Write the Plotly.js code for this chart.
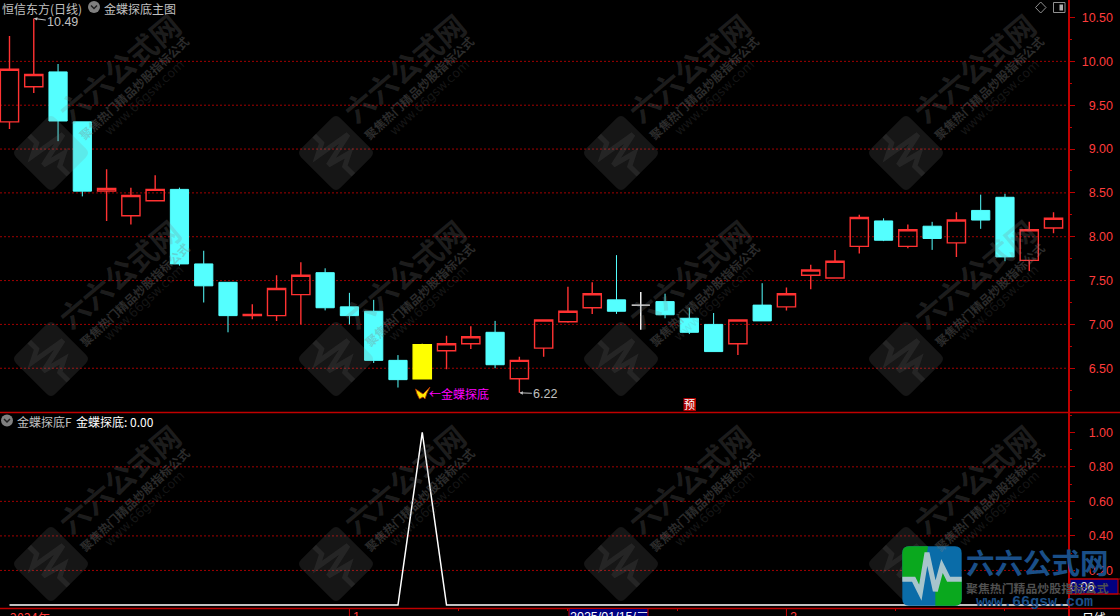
<!DOCTYPE html>
<html><head><meta charset="utf-8">
<script src="https://cdn.plot.ly/plotly-3.0.1.min.js"></script>
<style>html,body{margin:0;padding:0;background:#000;overflow:hidden}#c{width:1120px;height:616px}</style>
</head><body><div id="c"></div><script>
const candleIndex=[0,1,2,3,4,5,6,7,8,9,10,11,12,13,14,15,16,17,18,19,20,21,22,23,24,25,26,27,28,29,30,31,32,33,34,35,36,37,38,39,40,41,42,43];
const openP =[9.31,9.71,9.88,9.31,8.52,8.24,8.41,8.54,7.69,7.48,7.10,7.10,7.34,7.59,7.20,7.15,6.59,6.38,6.70,6.78,6.91,6.38,6.73,7.03,7.19,7.28,7.22,7.26,7.07,7.00,6.78,7.22,7.20,7.56,7.53,7.89,8.18,7.89,8.12,7.93,8.30,8.45,7.73,8.10];
const highP =[10.29,10.49,9.97,9.31,8.77,8.56,8.70,8.56,7.84,7.48,7.23,7.56,7.71,7.64,7.36,7.28,6.65,6.78,6.87,6.98,7.04,6.63,7.05,7.43,7.48,7.79,7.37,7.35,7.19,7.13,7.05,7.47,7.42,7.68,7.85,8.25,8.21,8.14,8.17,8.28,8.48,8.49,8.17,8.28];
const lowP  =[9.23,9.64,9.09,8.46,8.18,8.14,8.41,7.67,7.25,6.91,7.06,7.04,7.00,7.16,7.00,6.56,6.28,6.38,6.49,6.72,6.50,6.22,6.63,7.02,7.12,7.12,6.94,7.07,6.89,6.69,6.65,7.04,7.16,7.40,7.52,7.81,7.95,7.87,7.85,7.77,8.09,7.72,7.61,8.04];
const closeP=[9.91,9.85,9.32,8.52,8.55,8.47,8.54,7.69,7.44,7.10,7.115,7.41,7.56,7.19,7.10,6.59,6.37,6.77,6.78,6.86,6.54,6.59,7.05,7.15,7.35,7.15,7.22,7.11,6.91,6.69,7.05,7.04,7.35,7.62,7.72,8.22,7.96,8.08,7.98,8.19,8.19,7.77,8.08,8.21];
const signalIndex=[0,1,2,3,4,5,6,7,8,9,10,11,12,13,14,15,16,17,18,19,20,21,22,23,24,25,26,27,28,29,30,31,32,33,34,35,36,37,38,39,40,41,42,43,44];
const signalV=[0,0,0,0,0,0,0,0,0,0,0,0,0,0,0,0,0,1,0,0,0,0,0,0,0,0,0,0,0,0,0,0,0,0,0,0,0,0,0,0,0,0,0,0,0];
const goldIdx=[17], whiteIdx=[26];
const mainTicks=[6.5,7,7.5,8,8.5,9,9.5,10,10.5];
const mainTickText=['6.50','7.00','7.50','8.00','8.50','9.00','9.50','10.00','10.50'];
const mainGrid=[6.5,7,7.5,8,8.5,9,9.5,10];
const subTicks=[0.2,0.4,0.6,0.8,1];
const subTickText=['0.20','0.40','0.60','0.80','1.00'];
const subGrid=[0.2,0.4,0.6,0.8];
const timeTicks=[14,18.5,23,27.5,32,36.5,41];
const monthTicks=[14,32];
const monthLabels=['1','2'];

const W=1120,H=616;
const X=p=>p/W, Y=p=>1-p/H;
const RED='#c00000',TXT='#ff3c3c',GREY='#c0c0c0',WM='rgba(128,128,128,0.17)',WMT='rgba(128,128,128,0.22)',WM2='rgba(128,128,128,0.34)';
const SANS='"Noto Sans CJK SC","Noto Sans",sans-serif',NUM='"Liberation Sans",Arial,sans-serif';
const pick=(a,keep)=>a.filter((_,i)=>keep(i));
const isPlain=i=>!goldIdx.includes(i)&&!whiteIdx.includes(i);
function candle(keep,upLine,upFill,dnLine,dnFill){
  return {type:'candlestick',x:pick(candleIndex,keep),open:pick(openP,keep),high:pick(highP,keep),low:pick(lowP,keep),close:pick(closeP,keep),
    xaxis:'x',yaxis:'y',hoverinfo:'skip',showlegend:false,whiskerwidth:0,
    increasing:{line:{color:upLine,width:1.4},fillcolor:upFill},decreasing:{line:{color:dnLine,width:1},fillcolor:dnFill}};
}
const traces=[
  candle(isPlain,'#ff3232','rgba(0,0,0,0)','#54ffff','#54ffff'),
  candle(i=>goldIdx.includes(i),'#ffff00','#ffff00','#ffff00','#ffff00'),
  candle(i=>whiteIdx.includes(i),'#ffffff','#ffffff','#ffffff','#ffffff'),
  {type:'scatter',mode:'lines',x:signalIndex,y:signalV,xaxis:'x',yaxis:'y2',line:{color:'#ffffff',width:1.5},hoverinfo:'skip',showlegend:false}
];

const shapes=[];
mainGrid.forEach(v=>shapes.push({type:'line',layer:'below',xref:'paper',yref:'y',x0:0,x1:1068/W,y0:v,y1:v,line:{color:'#a00000',width:1,dash:'2px,2px'}}));
subGrid.forEach(v=>shapes.push({type:'line',layer:'below',xref:'paper',yref:'y2',x0:0,x1:1068/W,y0:v,y1:v,line:{color:'#a00000',width:1,dash:'2px,2px'}}));
const hline=(y,x0,x1,w)=>shapes.push({type:'line',xref:'paper',yref:'paper',x0:X(x0),x1:X(x1),y0:Y(y),y1:Y(y),line:{color:RED,width:w}});
hline(412.5,0,1120,1.4);hline(608.5,0,1120,1.4);
shapes.push({type:'line',xref:'paper',yref:'paper',x0:X(1069),x1:X(1069),y0:Y(0),y1:Y(616),line:{color:RED,width:2}});
monthTicks.forEach(v=>shapes.push({type:'line',xref:'x',yref:'paper',x0:v,x1:v,y0:Y(608),y1:Y(616),line:{color:RED,width:1}}));
shapes.push({type:'rect',xref:'paper',yref:'paper',x0:X(569),x1:X(648),y0:Y(608.5),y1:Y(620),fillcolor:'#000080',line:{color:RED,width:1}});
shapes.push({type:'rect',xref:'paper',yref:'paper',x0:X(1070),x1:X(1118),y0:Y(579),y1:Y(594),fillcolor:'#000080',line:{color:RED,width:1}});
hline(579,1070,1120,1);hline(594,1070,1120,1);
const pulse=[[-89,10],[-55,10],[-35,50],[-15,-70],[10,45],[30,-30],[50,10],[89,10]];
function mapPts(pts,cx,cy,s,rot){const c=Math.cos(rot),n=Math.sin(rot);return pts.map(([a,b])=>{const x=a*s,y=b*s;return [cx+x*c-y*n,cy+x*n+y*c];});}
function pathOf(cmds,cx,cy,s,rot){return cmds.map(c=>{const p=mapPts(c.slice(1),cx,cy,s,rot).map(q=>X(q[0]).toFixed(5)+' '+Y(q[1]).toFixed(5)).join(' ');return c[0]+' '+p;}).join(' ');}
const rr=[['M',[-89,-69]],['Q',[-89,-89],[-69,-89]],['L',[69,-89]],['Q',[89,-89],[89,-69]],['L',[89,69]],['Q',[89,89],[69,89]],['L',[-69,89]],['Q',[-89,89],[-89,69]],['L',[-89,-69]]];
const pulseCmd=pulse.map((p,i)=>[i?'L':'M',p]);
const tileX=[51,336,621,906],tileY=[153,359,564];
const anns=[];
function label(text,x,y,o={}){anns.push(Object.assign({text,xref:'paper',yref:'paper',x:X(x),y:Y(y),showarrow:false,xanchor:o.xa||'left',yanchor:'middle',font:{family:o.family||SANS,size:o.size||12,color:o.color||GREY,weight:o.weight||400},textangle:o.angle||0,borderpad:0,borderwidth:0},o.extra||{}));}
tileX.forEach(cx=>tileY.forEach(cy=>{
  const s=27.7/89,rot=Math.PI/4;
  shapes.push({type:'path',layer:'above',xref:'paper',yref:'paper',path:pathOf(rr,cx,cy,s,rot)+' Z',fillcolor:WM,line:{width:0}});
  shapes.push({type:'path',layer:'above',xref:'paper',yref:'paper',path:pathOf(pulseCmd,cx,cy,s,rot),line:{color:'rgba(128,128,128,0.15)',width:5}});
  label('六六公式网',cx+68,cy-86,{xa:'center',size:29.5,angle:-40,color:WMT,weight:700});
  label('聚焦热门精品炒股指标公式',cx+83,cy-65,{xa:'center',size:12,angle:-43,color:WM2,weight:700});
  label('www.66gsw.com',cx+93,cy-56,{xa:'center',size:12.5,angle:-43,color:WM,family:'"DejaVu Sans",sans-serif'});
}));
const lx=932,ly=576,ls=1/3;
shapes.push({type:'path',layer:'above',xref:'paper',yref:'paper',path:pathOf(rr,lx,ly,ls,0)+' Z',fillcolor:'#0a6ca8',line:{width:0}});
shapes.push({type:'path',layer:'above',xref:'paper',yref:'paper',path:pathOf([['M',[-89,10]],['L',[-89,-69]],['Q',[-89,-89],[-69,-89]],['L',[-12,-89]],['L',[-15,-70]],['L',[-35,50]],['L',[-55,10]]],lx,ly,ls,0)+' Z',fillcolor:'#0aa81e',line:{width:0}});
shapes.push({type:'path',layer:'above',xref:'paper',yref:'paper',path:pathOf([['M',[89,10]],['L',[89,69]],['Q',[89,89],[69,89]],['L',[10,89]],['L',[10,45]],['L',[30,-30]],['L',[50,10]]],lx,ly,ls,0)+' Z',fillcolor:'#0aa81e',line:{width:0}});
shapes.push({type:'path',layer:'above',xref:'paper',yref:'paper',path:pathOf(pulseCmd,lx,ly,ls,0),line:{color:'#a8c4cc',width:5}});
function chevronIcon(cx,cy){
  shapes.push({type:'circle',layer:'above',xref:'paper',yref:'paper',x0:X(cx-6),x1:X(cx+6),y0:Y(cy-6),y1:Y(cy+6),fillcolor:'#808080',line:{width:0}});
  shapes.push({type:'path',layer:'above',xref:'paper',yref:'paper',path:`M ${X(cx-3)} ${Y(cy-1.5)} L ${X(cx)} ${Y(cy+1.5)} L ${X(cx+3)} ${Y(cy-1.5)}`,line:{color:'#202020',width:1.5}});
}
chevronIcon(94,7);chevronIcon(7,420.5);
shapes.push({type:'path',layer:'above',xref:'paper',yref:'paper',path:`M ${X(1035.5)} ${Y(7.5)} L ${X(1040.7)} ${Y(2)} L ${X(1046)} ${Y(7.5)} L ${X(1040.7)} ${Y(13)} Z`,line:{color:'#909090',width:1}});
shapes.push({type:'rect',layer:'above',xref:'paper',yref:'paper',x0:X(1053.5),x1:X(1065),y0:Y(2.5),y1:Y(12.5),line:{color:'#909090',width:1}});
shapes.push({type:'rect',layer:'above',xref:'paper',yref:'paper',x0:X(1059.5),x1:X(1063),y0:Y(4.5),y1:Y(10.5),fillcolor:'#b0b0b0',line:{width:0}});
shapes.push({type:'path',layer:'above',xref:'paper',yref:'paper',path:`M ${X(423)} ${Y(394)} L ${X(415.5)} ${Y(389)} L ${X(417)} ${Y(394)} L ${X(419.5)} ${Y(399)} L ${X(423)} ${Y(397)} L ${X(425)} ${Y(399)} L ${X(427)} ${Y(393)} L ${X(430)} ${Y(387)} Z`,fillcolor:'#ffe800',line:{color:'#b03000',width:0.8}});
shapes.push({type:'rect',layer:'above',xref:'paper',yref:'paper',x0:X(683.5),x1:X(696),y0:Y(398),y1:Y(411),fillcolor:'#b00000',line:{width:0}});

label('恒信东方(日线)',2,8.5);
label('金蝶探底主图',103.5,8.5);
label('金蝶探底F',16.5,421);
label('金蝶探底: 0.00',76.5,421,{color:'#ffffff'});
label('←金蝶探底',429,393,{color:'#ff00ff'});
label('预',689.7,404.5,{xa:'center',size:11,color:'#ffffff'});
label('2024年',10,617,{family:SANS,size:12.5,color:TXT});
monthTicks.forEach((v,i)=>anns.push({text:monthLabels[i],xref:'x',yref:'paper',x:v,y:Y(617),xanchor:'left',yanchor:'middle',xshift:2,showarrow:false,font:{family:NUM,size:12.5,color:TXT}}));
label('2025/01/15/二',570,617,{size:12.5,color:'#ffffff',family:NUM});
label('日线',1093.5,617,{xa:'center',color:'#ffffff'});
label('0.06',1070,586.5,{family:NUM,size:12.5,color:'#e0e0e0'});
label('六六公式网',1037.5,561,{xa:'center',size:28.5,color:'#1a4f88',weight:700});
label('聚焦热门精品炒股指标公式',1037.5,587,{xa:'center',size:11.9,color:'#505050',weight:700});
label('www.66gsw.com',1034,602.5,{xa:'center',family:'"Liberation Mono",monospace',size:15,color:'#1a4f88',weight:700});
const noteFont={family:NUM,size:12.5,color:GREY};
anns.push({text:'10.49',xref:'x',yref:'y',x:1,y:10.49,ax:29,ay:4,showarrow:true,arrowhead:2,arrowsize:0.7,arrowwidth:1,arrowcolor:GREY,font:noteFont});
anns.push({text:'6.22',xref:'x',yref:'y',x:21,y:6.22,ax:26,ay:1,showarrow:true,arrowhead:2,arrowsize:0.7,arrowwidth:1,arrowcolor:GREY,font:noteFont});

const lineAxis={showgrid:false,zeroline:false,showline:true,linecolor:RED,linewidth:2,ticks:'outside',tickcolor:RED,tickwidth:1,showticklabels:false};
const labelAxis={showgrid:false,zeroline:false,showline:false,ticks:'',side:'right',anchor:'free',position:1116/W,ticklabelposition:'inside',ticklabeloverflow:'allow',tickfont:{family:NUM,size:12.5,color:TXT}};
const mainRange=[6.001,10.70],subRange=[-0.0174,1.1175];
const mainDom=[Y(412),1],subDom=[Y(608),Y(412)];
const layout={width:W,height:H,margin:{l:0,r:0,t:0,b:0,pad:0},paper_bgcolor:'#000',plot_bgcolor:'#000',showlegend:false,
  boxmode:'overlay',boxgap:0.25,boxgroupgap:0,
  xaxis:{domain:[0,1068/W],range:[-0.391,43.596],anchor:'y2',rangeslider:{visible:false},showgrid:false,zeroline:false,showline:false,ticks:'outside',ticklen:2,tickcolor:RED,tickvals:timeTicks,showticklabels:false,fixedrange:true},
  yaxis:Object.assign({},lineAxis,{domain:mainDom,range:mainRange,side:'right',anchor:'x',tickvals:mainTicks,ticklen:5,minor:{dtick:0.25,ticks:'outside',ticklen:2,tickcolor:RED},fixedrange:true}),
  yaxis2:Object.assign({},lineAxis,{domain:subDom,range:subRange,side:'right',anchor:'x',tickvals:subTicks,ticklen:5,minor:{dtick:0.1,tick0:0.9,ticks:'outside',ticklen:2,tickcolor:RED},fixedrange:true}),
  yaxis3:Object.assign({},labelAxis,{overlaying:'y',range:mainRange,tickvals:mainTicks,ticktext:mainTickText}),
  yaxis4:Object.assign({},labelAxis,{overlaying:'y2',range:subRange,tickvals:subTicks,ticktext:subTickText}),
  shapes,annotations:anns};
traces.push({type:'scatter',mode:'lines',x:[null],y:[null],yaxis:'y3',xaxis:'x',hoverinfo:'skip',showlegend:false});
traces.push({type:'scatter',mode:'lines',x:[null],y:[null],yaxis:'y4',xaxis:'x',hoverinfo:'skip',showlegend:false});
Plotly.newPlot('c',traces,layout,{staticPlot:true,displayModeBar:false});
</script></body></html>
